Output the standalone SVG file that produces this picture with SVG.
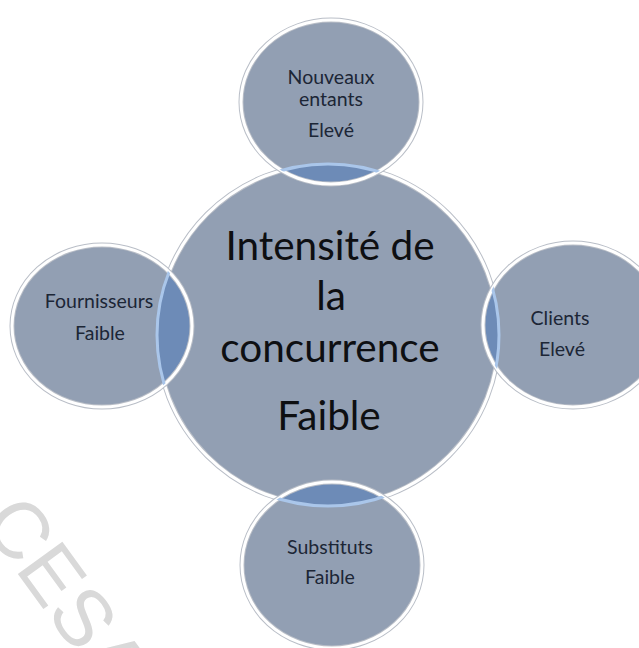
<svg xmlns="http://www.w3.org/2000/svg" width="639" height="648" viewBox="0 0 639 648">
  <style>
    .disc { fill: #929fb3; }
    .rim-out { fill: none; stroke: #b9bec7; stroke-width: 5; }
    .rim { fill: none; stroke: #ffffff; stroke-width: 3; }
    .lap { fill: #6d8bb7; }
    .edge { fill: none; stroke: #aac6ea; stroke-width: 3; }
    .small { font-family: Lato, "Liberation Sans", sans-serif; font-size: 19.5px; fill: #1c2636; text-anchor: middle; }
    .big { font-family: Lato, "Liberation Sans", sans-serif; font-size: 40.5px; fill: #0e0f12; text-anchor: middle; }
    .mark { font-family: "Liberation Sans", Arial, sans-serif; font-size: 80px; fill: #d9d9d9; }
  </style>
  <defs>
    <clipPath id="inCenter"><circle cx="328" cy="335" r="171"/></clipPath>
    <clipPath id="inTop"><ellipse cx="331" cy="102" rx="90" ry="82"/></clipPath>
    <clipPath id="inLeft"><ellipse cx="102" cy="326" rx="90" ry="81"/></clipPath>
    <clipPath id="inRight"><ellipse cx="573" cy="325" rx="90" ry="82"/></clipPath>
    <clipPath id="inBottom"><ellipse cx="332" cy="565" rx="90" ry="83"/></clipPath>
  </defs>

  <rect width="639" height="648" fill="#ffffff"/>

  <!-- faint watermark, running off the lower edge -->
  <text class="mark" transform="translate(-20,522) rotate(54)">CESA</text>

  <!-- central force -->
  <g id="center">
    <circle class="disc" cx="328" cy="335" r="171"/>
    <circle class="rim-out" cx="328" cy="335" r="171"/>
    <circle class="rim" cx="328" cy="335" r="171"/>
  </g>

  <g id="top">
    <ellipse class="disc" cx="331" cy="102" rx="90" ry="82"/>
    <ellipse class="lap" cx="331" cy="102" rx="90" ry="82" clip-path="url(#inCenter)"/>
    <ellipse class="rim-out" cx="331" cy="102" rx="90" ry="82"/>
    <ellipse class="rim" cx="331" cy="102" rx="90" ry="82"/>
    <circle class="edge" cx="328" cy="335" r="171" clip-path="url(#inTop)"/>
    <text class="small" x="331" y="84">Nouveaux</text>
    <text class="small" x="331" y="106">entants</text>
    <text class="small" x="331" y="137">Elevé</text>
  </g>

  <g id="left">
    <ellipse class="disc" cx="102" cy="326" rx="90" ry="81"/>
    <ellipse class="lap" cx="102" cy="326" rx="90" ry="81" clip-path="url(#inCenter)"/>
    <ellipse class="rim-out" cx="102" cy="326" rx="90" ry="81"/>
    <ellipse class="rim" cx="102" cy="326" rx="90" ry="81"/>
    <circle class="edge" cx="328" cy="335" r="171" clip-path="url(#inLeft)"/>
    <text class="small" x="99" y="308">Fournisseurs</text>
    <text class="small" x="100" y="340">Faible</text>
  </g>

  <g id="right">
    <ellipse class="disc" cx="573" cy="325" rx="90" ry="82"/>
    <ellipse class="lap" cx="573" cy="325" rx="90" ry="82" clip-path="url(#inCenter)"/>
    <ellipse class="rim-out" cx="573" cy="325" rx="90" ry="82"/>
    <ellipse class="rim" cx="573" cy="325" rx="90" ry="82"/>
    <circle class="edge" cx="328" cy="335" r="171" clip-path="url(#inRight)"/>
    <text class="small" x="560" y="325">Clients</text>
    <text class="small" x="562" y="356">Elevé</text>
  </g>

  <g id="bottom">
    <ellipse class="disc" cx="332" cy="565" rx="90" ry="83"/>
    <ellipse class="lap" cx="332" cy="565" rx="90" ry="83" clip-path="url(#inCenter)"/>
    <ellipse class="rim-out" cx="332" cy="565" rx="90" ry="83"/>
    <ellipse class="rim" cx="332" cy="565" rx="90" ry="83"/>
    <circle class="edge" cx="328" cy="335" r="171" clip-path="url(#inBottom)"/>
    <text class="small" x="330" y="554">Substituts</text>
    <text class="small" x="330" y="584">Faible</text>
  </g>

  <g id="center-label">
    <text class="big" x="330" y="260">Intensité de</text>
    <text class="big" x="331" y="310">la</text>
    <text class="big" x="330" y="362">concurrence</text>
    <text class="big" x="329" y="430">Faible</text>
  </g>
</svg>
